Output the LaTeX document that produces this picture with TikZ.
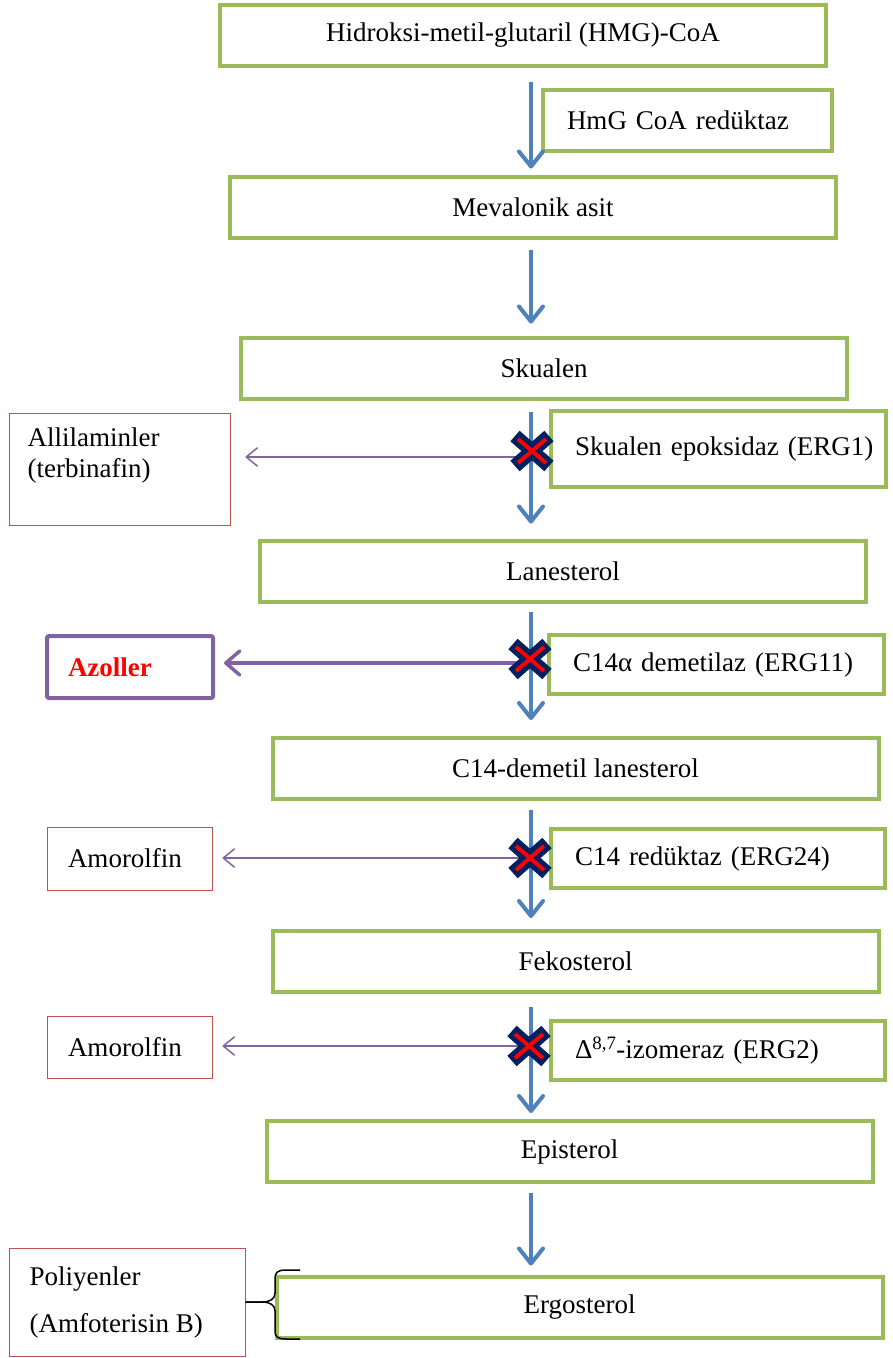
\documentclass[tikz,border=0pt]{standalone}
\usepackage{fontspec}
\setmainfont{Liberation Serif}
\usetikzlibrary{arrows.meta}
\definecolor{stepgreen}{HTML}{9BBB59}
\definecolor{flowblue}{HTML}{4F81BD}
\definecolor{drugpurple}{HTML}{8064A2}
\definecolor{drugred}{HTML}{C0504D}
\definecolor{crossnavy}{HTML}{002060}
\newcommand{\stepfont}{\fontsize{27}{31}\selectfont}
% blocked step: navy cross with a red cross on top
\newcommand{\blockmark}[1]{%
  \draw[crossnavy, line width=14pt] ([shift={(-17,-15)}]#1) -- ([shift={(17,15)}]#1);
  \draw[crossnavy, line width=14pt] ([shift={(-17,15)}]#1) -- ([shift={(17,-15)}]#1);
  \draw[red, line width=4pt] ([shift={(-14,-12)}]#1) -- ([shift={(14,12)}]#1);
  \draw[red, line width=4pt] ([shift={(-14,12)}]#1) -- ([shift={(14,-12)}]#1);}

\begin{document}
\begin{tikzpicture}[x=1pt,y=-1pt,
  stepbox/.style={draw=stepgreen, line width=4pt, minimum width=606pt, minimum height=61pt, inner sep=0pt, font=\stepfont},
  enzbox/.style={draw=stepgreen, line width=4pt, minimum height=59pt, inner sep=0pt, align=left, font=\stepfont, execute at begin node={\hspace*{24pt}}},
  drugbox/.style={draw=drugred, line width=1pt, inner sep=0pt, align=left, font=\stepfont, execute at begin node={\hspace*{21pt}}},
  flow/.style={draw=flowblue, line width=4pt, -{Straight Barb[length=15pt, width=24pt, round]}},
  inhib/.style={draw=drugpurple, line width=1.5pt, -{Straight Barb[length=11pt, width=18pt, round]}},
  inhibthick/.style={draw=drugpurple, line width=3.5pt, -{Straight Barb[length=14pt, width=24pt, round]}}]
\useasboundingbox (0,0) rectangle (893,1358);

% pathway steps
\node[stepbox] (hmg) at (523,35.5) {Hidroksi-metil-glutaril (HMG)-CoA};
\node[stepbox] (meval) at (533,207) {Mevalonik asit};
\node[stepbox] (skual) at (544,368) {Skualen};
\node[stepbox] (lanes) at (563,571) {Lanesterol};
\node[stepbox] (cdem) at (575.5,768.5) {C14-demetil lanesterol};
\node[stepbox] (fekos) at (575.5,961.5) {Fekosterol};
\node[stepbox] (epis) at (569.5,1151.5) {Episterol};
\node[stepbox] (ergos) at (579.5,1307) {Ergosterol};

% enzymes
\node[enzbox, text width=289pt, minimum height=61pt] (hmgr) at (687.5,120.5) {HmG CoA redüktaz};
\node[enzbox, text width=335pt, minimum height=76pt] (erg1) at (718.5,449) {Skualen epoksidaz (ERG1)};
\node[enzbox, text width=335pt] (erg11) at (716.5,664.5) {C14α demetilaz (ERG11)};
\node[enzbox, text width=334pt] (erg24) at (718,858.5) {C14 redüktaz (ERG24)};
\node[enzbox, text width=334pt] (erg2) at (718,1050.5) {Δ\textsuperscript{8,7}-izomeraz (ERG2)};

% drugs
\node[drugbox, minimum width=221pt, minimum height=112pt] (allil) at (119.5,469) {};
\node[anchor=west, align=left, font=\stepfont, inner sep=0pt] (alliltext) at ([xshift=19pt, yshift=13.5pt]allil.west) {Allilaminler\\(terbinafin)};
\node[drugbox, draw=drugpurple, line width=4pt, rounded corners=2pt, text width=166pt, minimum height=62pt, font=\stepfont\bfseries, text=red] (azol) at (130,667) {Azoller};
\node[drugbox, text width=165pt, minimum height=63pt] (amor1) at (129.5,858.5) {Amorolfin};
\node[drugbox, text width=165pt, minimum height=62pt] (amor2) at (129.5,1047) {Amorolfin};
\node[drugbox, minimum width=236pt, minimum height=108pt] (poli) at (127,1302) {};
\node[anchor=west, align=left, font=\fontsize{27}{47}\selectfont, inner sep=0pt] (politext) at ([xshift=21pt]poli.west) {Poliyenler\\(Amfoterisin B)};

% main flow
\coordinate (spine) at (531,0);
\foreach \a/\b/\s/\e in {hmg/meval/14pt/6pt, meval/skual/10pt/12pt, skual/lanes/11pt/15pt,
    lanes/cdem/8pt/16pt, cdem/fekos/9pt/11pt, fekos/epis/13pt/6pt, epis/ergos/9pt/9pt}
  \draw[flow, shorten <=\s, shorten >=\e] (\a.south -| spine) -- (\b.north -| spine);

% inhibitions
\coordinate (cut1) at (532,451);
\coordinate (cut2) at (530,659);
\coordinate (cut3) at (530,858);
\coordinate (cut4) at (529,1046);
\draw[inhib, shorten >=15pt] ([yshift=-6pt]cut1) -- ([yshift=-6pt]cut1 -| allil.east);
\draw[inhibthick, shorten >=9pt] ([yshift=-4pt]cut2) -- ([yshift=-4pt]cut2 -| azol.east);
\draw[inhib, shorten >=10pt] (cut3) -- (cut3 -| amor1.east);
\draw[inhib, shorten >=10pt] (cut4) -- (cut4 -| amor2.east);
\blockmark{cut1}
\blockmark{cut2}
\blockmark{cut3}
\blockmark{cut4}

% brace to ergosterol
\draw[line width=1.5pt] (poli.east) -- (262,1302) .. controls (270,1302) and (275,1299) .. (275,1293)
  -- (275,1280) .. controls (275,1272) and (277,1270) .. (287,1270) -- (300,1270);
\draw[line width=1.5pt] (poli.east) -- (262,1302) .. controls (270,1302) and (275,1305) .. (275,1311)
  -- (275,1330) .. controls (275,1337) and (277,1339) .. (287,1339) -- (300,1339);
\end{tikzpicture}
\end{document}
